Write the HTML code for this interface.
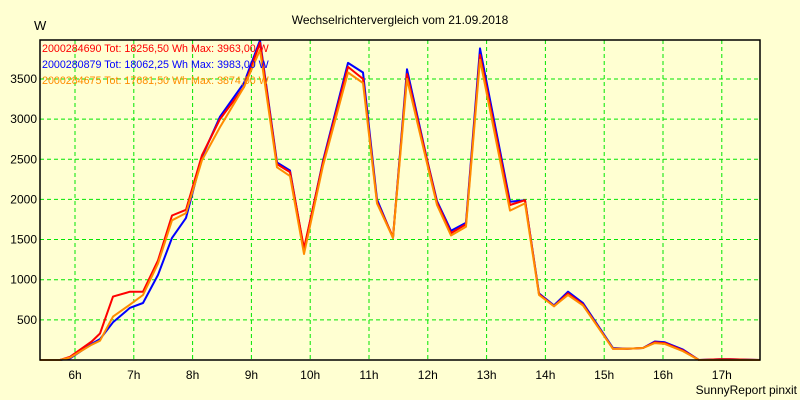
<!DOCTYPE html>
<html><head><meta charset="utf-8"><style>
body{margin:0;background:#ffffd2;}
svg{display:block;font-family:"Liberation Sans",sans-serif;}
</style></head><body>
<svg width="800" height="400" xmlns="http://www.w3.org/2000/svg">
<rect x="0" y="0" width="800" height="400" fill="#ffffd2"/>
<g id="grid"></g>
<g id="axes"></g>
<g id="series"></g>
<rect x="40" y="40" width="720" height="320" fill="none" stroke="#000" stroke-width="1.5"/>
<text x="400" y="24" font-size="12" text-anchor="middle">Wechselrichtervergleich vom 21.09.2018</text>
<text x="34" y="30" font-size="13">W</text>
<text x="797" y="394" font-size="12" text-anchor="end">SunnyReport pinxit</text>
<g id="legend" font-size="10.7">
<text x="42" y="52" fill="#ff0000">2000284690 Tot: 18256,50 Wh Max: 3963,00 W</text>
<text x="42" y="68" fill="#0000ff">2000280879 Tot: 18062,25 Wh Max: 3983,00 W</text>
<text x="42" y="84" fill="#ff8c00">2000284675 Tot: 17681,50 Wh Max: 3874,00 W</text>
</g>
</svg>
<script>
const times=[5.405,5.745,5.915,6.284,6.425,6.646,6.935,7.156,7.412,7.65,7.888,8.16,8.466,8.874,9.146,9.435,9.656,9.895,10.218,10.643,10.898,11.136,11.408,11.646,11.986,12.156,12.395,12.65,12.888,13.398,13.653,13.891,14.146,14.384,14.639,15.15,15.39,15.66,15.86,16.03,16.34,16.61,16.97,17.14,17.65];
const redVals=[0,0,40,230,330,790,850,850,1240,1800,1870,2550,3000,3400,3950,2440,2340,1390,2460,3650,3500,1970,1530,3560,2490,1960,1580,1690,3800,1930,1990,820,670,830,690,140,140,150,220,210,120,0,10,10,0];
const blueVals=[0,0,20,200,260,470,650,710,1060,1520,1770,2530,3030,3450,3980,2460,2360,1370,2480,3700,3580,2000,1520,3620,2500,1980,1610,1710,3880,1970,1990,830,680,850,710,150,140,150,230,220,130,0,10,10,0];
const orangeVals=[0,0,30,190,240,540,690,810,1200,1740,1830,2490,2900,3400,3860,2400,2290,1320,2420,3580,3450,1950,1520,3500,2450,1930,1550,1660,3740,1860,1950,810,670,810,680,140,140,150,210,200,110,0,0,0,0];
const yTicks=[500,1000,1500,2000,2500,3000,3500];
const xTicks=[6,7,8,9,10,11,12,13,14,15,16,17];
const xTickLabels=["6h","7h","8h","9h","10h","11h","12h","13h","14h","15h","16h","17h"];
const NS="http://www.w3.org/2000/svg";
function xs(t){return 75+(t-6)*58.8;}
function ys(v){return 360-v*0.0803;}
function mk(tag,attrs,parent){const e=document.createElementNS(NS,tag);for(const k in attrs)e.setAttribute(k,attrs[k]);parent.appendChild(e);return e;}
const grid=document.getElementById('grid'),axes=document.getElementById('axes'),ser=document.getElementById('series');
yTicks.forEach(v=>{
 const l=mk('line',{x1:40,x2:760,y1:ys(v),y2:ys(v),stroke:'#00e600','stroke-dasharray':'4,3','stroke-width':1},grid);
 
 
 const t=mk('text',{x:37,y:ys(v)+4,'font-size':12,'text-anchor':'end'},axes);
 t.textContent=v;
 
 
});
xTicks.forEach((h,i)=>{
 const l=mk('line',{x1:xs(h),x2:xs(h),y1:40,y2:360,stroke:'#00e600','stroke-dasharray':'4,3','stroke-width':1},grid);
 
 
 const t=mk('text',{x:xs(h),y:379,'font-size':12,'text-anchor':'middle'},axes);
 t.textContent=xTickLabels[i];
 
 
});
[[blueVals,'#0000ff','series-2000280879-line'],[redVals,'#ff0000','series-2000284690-line'],[orangeVals,'#ff8c00','series-2000284675-line']].forEach(([vals,col,name])=>{
 const pts=times.map((t,i)=>xs(t).toFixed(1)+','+ys(vals[i]).toFixed(1)).join(' ');
 const p=mk('polyline',{points:pts,fill:'none',stroke:col,'stroke-width':2,'stroke-linejoin':'round'},ser);
 
 
});
</script>
</body></html>
